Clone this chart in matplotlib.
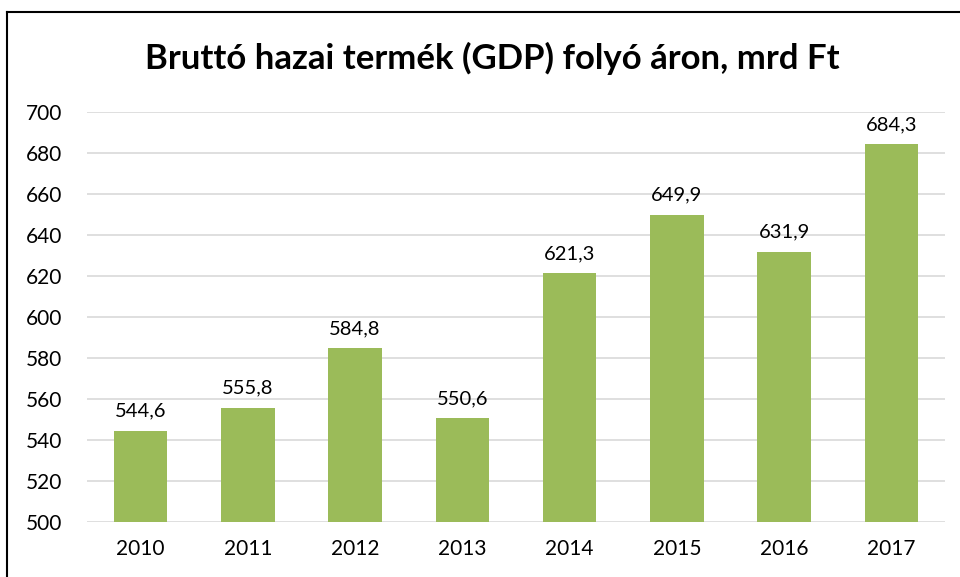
import matplotlib
matplotlib.use("Agg")
import matplotlib.pyplot as plt
from matplotlib.lines import Line2D

years = ["2010", "2011", "2012", "2013", "2014", "2015", "2016", "2017"]
gdp = [544.6, 555.8, 584.8, 550.6, 621.3, 649.9, 631.9, 684.3]
y_ticks = [500, 520, 540, 560, 580, 600, 620, 640, 660, 680, 700]

plt.rcParams["font.family"] = ["Lato", "DejaVu Sans"]

fig = plt.figure(figsize=(9.6, 5.77), dpi=100)
ax = fig.add_axes([87 / 960, 1 - 522 / 577, (945 - 87) / 960, (522 - 112) / 577])

x = list(range(len(years)))
ax.bar(x, gdp, width=0.5, color="#9BBB59", zorder=3)

for xi, v in zip(x, gdp):
    ax.annotate(f"{v:.1f}".replace(".", ","), (xi, v), xytext=(0, 8),
                textcoords="offset points", ha="center", va="bottom",
                fontsize=14.5, color="#000000")

ax.set_xlim(-0.5, len(years) - 0.5)
ax.set_ylim(500, 700)
ax.set_yticks(y_ticks)
ax.set_xticks(x)
ax.set_xticklabels(years)
ax.tick_params(axis="both", length=0, labelsize=15, colors="#000000")
ax.tick_params(axis="y", pad=18)
ax.tick_params(axis="x", pad=12)
ax.grid(axis="y", color="#D9D9D9", linewidth=1.2, zorder=0)
for s in ax.spines.values():
    s.set_visible(False)

fig.text(492 / 960, 1 - 58 / 577, "Bruttó hazai termék (GDP) folyó áron, mrd Ft",
         ha="center", va="center", fontsize=25, fontweight="bold")

# chart frame (only top and left edges visible in the crop)
fig.add_artist(Line2D([7 / 960, 7 / 960], [0, 1 - 12 / 577], transform=fig.transFigure,
                      color="#000000", linewidth=1.5))
fig.add_artist(Line2D([7 / 960, 1], [1 - 12 / 577, 1 - 12 / 577], transform=fig.transFigure,
                      color="#000000", linewidth=1.5))

fig.savefig("out.png", dpi=100)
